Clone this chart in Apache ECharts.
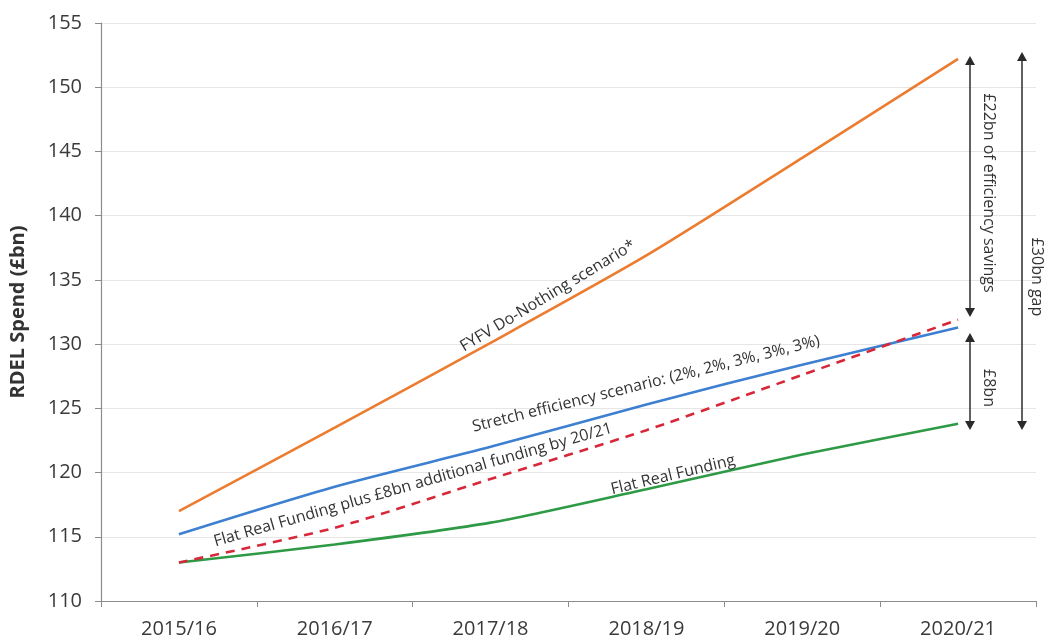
<!DOCTYPE html>
<html>
<head>
<meta charset="utf-8">
<script src="https://cdn.jsdelivr.net/npm/echarts@6/dist/echarts.min.js"></script>
<style>html,body{margin:0;padding:0;background:#fff}#c{width:1051px;height:641px}</style>
</head>
<body>
<div id="c"></div>
<script>
const categories = ['2015/16', '2016/17', '2017/18', '2018/19', '2019/20', '2020/21'];
const doNothing = [117.0, 123.5, 130.1, 136.9, 144.5, 152.2];
const stretch = [115.2, 118.9, 122.0, 125.3, 128.4, 131.3];
const flatPlus8 = [113.0, 115.7, 119.5, 123.3, 127.6, 131.9];
const flatReal = [113.0, 114.4, 116.1, 118.7, 121.4, 123.8];
const yTicks = { min: 110, max: 155, interval: 5 };

const FONT = '"Open Sans", "Noto Sans", sans-serif';
const chart = echarts.init(document.getElementById('c'), null, { renderer: 'canvas' });

function lineSeries(name, data, color, dashed) {
  return {
    name, type: 'line', data, smooth: 0.25, symbol: 'none',
    lineStyle: { color, width: 2.6, type: dashed ? [9, 7] : 'solid' },
    z: dashed ? 4 : 3
  };
}

function label(text, x, y, deg, size) {
  return {
    type: 'text', x, y, rotation: deg * Math.PI / 180, z: 10,
    style: { text, fill: '#333', font: (size || 16) + 'px ' + FONT, align: 'center', verticalAlign: 'middle' }
  };
}
function arrow(x, y1, y2) {
  const h = 9, w = 5;
  return [
    { type: 'line', z: 10, shape: { x1: x, y1: y1 + h - 1, x2: x, y2: y2 - h + 1 }, style: { stroke: '#3a3a3a', lineWidth: 1.6 } },
    { type: 'polygon', z: 10, shape: { points: [[x, y1], [x - w, y1 + h], [x + w, y1 + h]] }, style: { fill: '#2a2a2a' } },
    { type: 'polygon', z: 10, shape: { points: [[x, y2], [x - w, y2 - h], [x + w, y2 - h]] }, style: { fill: '#2a2a2a' } }
  ];
}

chart.setOption({
  animation: false,
  backgroundColor: '#fff',
  grid: { left: 97, right: 15, top: 23, bottom: 40, containLabel: false },
  xAxis: {
    type: 'category', data: categories, boundaryGap: true,
    axisLine: { lineStyle: { color: '#8c8c8c', width: 1.2 } },
    axisTick: { show: true, length: 6, lineStyle: { color: '#8c8c8c' } },
    axisLabel: { color: '#3a3a3a', fontSize: 20, fontFamily: FONT, margin: 18 },
    splitLine: { show: false }
  },
  yAxis: {
    type: 'value', min: yTicks.min, max: yTicks.max, interval: yTicks.interval,
    name: 'RDEL Spend (£bn)', nameLocation: 'middle', nameGap: 73, nameRotate: 90,
    nameTextStyle: { color: '#333', fontSize: 20, fontWeight: 'bold', fontFamily: FONT },
    axisLine: { show: true, lineStyle: { color: '#8c8c8c', width: 1.2 } },
    axisTick: { show: true, length: 6, lineStyle: { color: '#8c8c8c' } },
    axisLabel: { color: '#3a3a3a', fontSize: 20, fontFamily: FONT, margin: 19 },
    splitLine: { lineStyle: { color: '#e6e6e6', width: 1 } }
  },
  series: [
    lineSeries('FYFV Do-Nothing scenario*', doNothing, '#ec7c30'),
    lineSeries('Stretch efficiency scenario', stretch, '#3d7fd0'),
    lineSeries('Flat Real Funding', flatReal, '#2e9a46'),
    lineSeries('Flat Real Funding plus £8bn', flatPlus8, '#d7283a', true)
  ],
  graphic: [
    label('FYFV Do-Nothing scenario*', 548, 296, 31),
    label('Stretch efficiency scenario: (2%, 2%, 3%, 3%, 3%)', 646, 384, 14),
    label('Flat Real Funding plus £8bn additional funding by 20/21', 413, 485, 16),
    label('Flat Real Funding', 673, 475, 13.5),
    ...arrow(970, 56, 317),
    ...arrow(970, 333, 430),
    ...arrow(1022, 52, 430),
    label('£22bn of efficiency savings', 989, 193, -90),
    label('£8bn', 989, 388, -90),
    label('£30bn gap', 1037, 277, -90)
  ]
});
</script>
</body>
</html>
